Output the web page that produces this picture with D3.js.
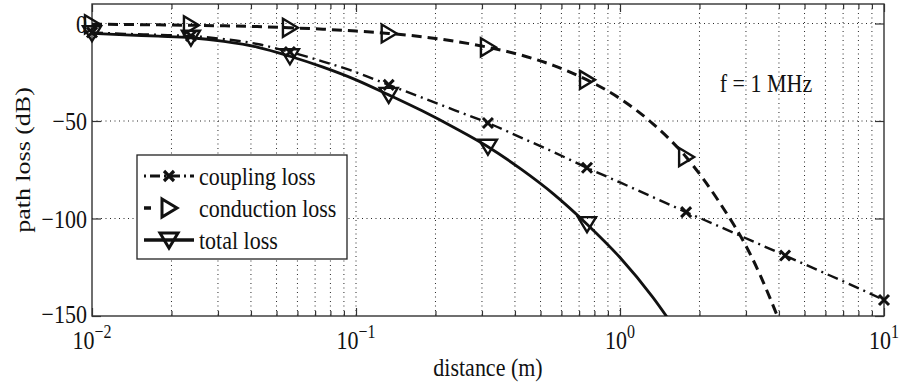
<!DOCTYPE html>
<html>
<head>
<meta charset="utf-8">
<script src="https://cdn.jsdelivr.net/npm/d3@7"></script>
<style>
  html, body { margin: 0; padding: 0; background: #fff; }
  svg { display: block; }
  text { font-family: "Liberation Serif", "Times New Roman", serif; fill: #111; }
</style>
</head>
<body>
<svg id="chart" width="901" height="385"></svg>
<script>
// ---- data ----
const distance = [0.01, 0.0133, 0.0178, 0.0237, 0.0316, 0.0422, 0.0562, 0.075, 0.1,
  0.133, 0.178, 0.237, 0.316, 0.422, 0.562, 0.75, 1.0, 1.33, 1.78, 2.37, 3.16, 4.22,
  5.62, 7.5, 10];
const couplingLoss = [-4.6, -5.3, -5.8, -6.4, -8, -10.5, -14.6, -19.5, -25,
  -31.5, -38, -44.5, -51, -58.5, -66, -74, -81.5, -89, -96.7, -104, -111.5, -119,
  -126.5, -134, -141.8];
const conductionLoss = [-0.4, -0.5, -0.7, -0.9, -1.2, -1.6, -2.2, -2.9, -3.9,
  -5.1, -6.8, -9.1, -12.2, -16.2, -21.6, -28.9, -38.5, -51.3, -68.5, -91.3, -120, -160];
const totalLoss = [-5.0, -5.8, -6.5, -7.3, -9.2, -12.1, -16.8, -22.4, -28.9,
  -36.6, -44.8, -53.6, -63.2, -74.7, -87.6, -102.9, -120, -140.3, -165];
const yTicks = [0, -50, -100, -150];
const xMajorTicks = [0.01, 0.1, 1, 10];
const xTickExponents = ["\u22122", "\u22121", "0", "1"];
const seriesNames = ["coupling loss", "conduction loss", "total loss"];
const annotation = "f = 1 MHz";
const xLabel = "distance (m)";
const yLabel = "path loss (dB)";

// ---- layout ----
const svg = d3.select("#chart");
const L = 92, R = 884, T = 4, B = 316;
const SY = 1.18; // vertical stretch of glyphs seen in the reference
const x = d3.scaleLog().domain([0.01, 10]).range([L, R]);
const y = d3.scaleLinear().domain([-150, 10]).range([B, T]);
const ink = "#111";

svg.append("defs").append("clipPath").attr("id", "plotclip")
  .append("rect").attr("x", L).attr("y", T).attr("width", R - L).attr("height", B - T);

// minor tick values
const xMinor = [];
[0.01, 0.1, 1].forEach(dec => { for (let k = 2; k <= 9; k++) xMinor.push(dec * k); });

// grid
const grid = svg.append("g").attr("stroke", ink).attr("stroke-width", 1)
  .attr("stroke-dasharray", "1,3.5").attr("opacity", 0.9);
xMinor.concat([0.1, 1]).forEach(v => {
  grid.append("line").attr("x1", x(v)).attr("x2", x(v)).attr("y1", T).attr("y2", B);
});
yTicks.filter(v => v > -150).forEach(v => {
  grid.append("line").attr("x1", L).attr("x2", R).attr("y1", y(v)).attr("y2", y(v));
});

// axes box and ticks (inward, MATLAB style)
const axesG = svg.append("g");
const mk = (axis, vals, size) => axis.tickValues(vals).tickSizeInner(-size).tickSizeOuter(0).tickFormat("");
axesG.append("g").attr("transform", `translate(0,${B})`).call(mk(d3.axisBottom(x), xMajorTicks, 8));
axesG.append("g").attr("transform", `translate(0,${B})`).call(mk(d3.axisBottom(x), xMinor, 5));
axesG.append("g").attr("transform", `translate(0,${T})`).call(mk(d3.axisTop(x), xMajorTicks, 8));
axesG.append("g").attr("transform", `translate(0,${T})`).call(mk(d3.axisTop(x), xMinor, 5));
axesG.append("g").attr("transform", `translate(${L},0)`).call(mk(d3.axisLeft(y), yTicks, 9));
axesG.append("g").attr("transform", `translate(${R},0)`).call(mk(d3.axisRight(y), yTicks, 9));
axesG.selectAll("path.domain").remove();
axesG.selectAll(".tick line").attr("stroke", "#333").attr("stroke-width", 1.2);
svg.append("rect").attr("x", L).attr("y", T).attr("width", R - L).attr("height", B - T)
  .attr("fill", "none").attr("stroke", "#333").attr("stroke-width", 1.4);

// tick labels
svg.append("g").selectAll("text").data(yTicks).join("text")
  .attr("transform", d => `translate(${L - 5},${y(d) - (d === -150 ? 2 : 0)}) scale(1,${SY})`).attr("dy", "0.35em")
  .attr("text-anchor", "end").style("font-size", "22px")
  .text(d => d < 0 ? "\u2212" + Math.abs(d) : String(d));
const xl = svg.append("g").selectAll("text").data(xMajorTicks).join("text")
  .attr("transform", d => `translate(${x(d)},${B + 33}) scale(1,${SY})`)
  .attr("text-anchor", "middle").style("font-size", "22px");
xl.append("tspan").text("10");
xl.append("tspan").attr("dy", -9).style("font-size", "16px").text((d, i) => xTickExponents[i]);

// axis labels
svg.append("text").attr("transform", `translate(${(L + R) / 2},376) scale(1,${SY})`)
  .attr("text-anchor", "middle").style("font-size", "22px").text(xLabel);
svg.append("text").attr("transform", `translate(30,${(T + B) / 2}) rotate(-90) scale(${SY},1)`)
  .attr("text-anchor", "middle").style("font-size", "22px").text(yLabel);

// annotation
svg.append("text").attr("transform", `translate(766,92) scale(1,${SY})`).attr("text-anchor", "middle")
  .style("font-size", "22px").text(annotation);

// series definitions
const series = [
  { name: seriesNames[0], values: couplingLoss, dash: "11,5,2,5", width: 2.4, marker: "x" },
  { name: seriesNames[1], values: conductionLoss, dash: "10,6", width: 3, marker: "right" },
  { name: seriesNames[2], values: totalLoss, dash: null, width: 2.8, marker: "down" }
];

function markerPath(type) {
  if (type === "x") return "M-5,-5L5,5M-5,5L5,-5";
  if (type === "right") return "M-7,-9L8,0L-7,9Z";
  return "M-9,-7L9,-7L0,8Z";
}

const lineGen = d3.line().x(d => x(d[0])).y(d => y(d[1])).curve(d3.curveMonotoneX);
const plotG = svg.append("g");
series.forEach(s => {
  const pts = s.values.map((v, i) => [distance[i], v]);
  plotG.append("path").attr("clip-path", "url(#plotclip)")
    .attr("d", lineGen(pts)).attr("fill", "none").attr("stroke", ink)
    .attr("stroke-width", s.width).attr("stroke-dasharray", s.dash)
    .attr("stroke-linejoin", "round");
  plotG.selectAll(null).data(pts.filter((p, i) => i % 3 === 0 && p[1] >= -150)).join("path")
    .attr("transform", p => `translate(${x(p[0])},${y(p[1])})`)
    .attr("d", markerPath(s.marker)).attr("fill", "none").attr("stroke", ink)
    .attr("stroke-width", s.marker === "x" ? 3 : 2.4).attr("stroke-linejoin", "miter");
});

// legend
const lg = svg.append("g");
const lgX = 137, lgY = 155, lgW = 210, lgH = 104;
lg.append("rect").attr("x", lgX).attr("y", lgY).attr("width", lgW).attr("height", lgH)
  .attr("fill", "#fff").attr("stroke", "#222").attr("stroke-width", 1.3);
series.forEach((s, i) => {
  const cy = lgY + 21 + i * 32;
  lg.append("line").attr("x1", lgX + 7).attr("x2", lgX + 57).attr("y1", cy).attr("y2", cy)
    .attr("stroke", ink).attr("stroke-width", s.width + 0.6)
    .attr("stroke-dasharray", s.marker === "x" ? "2,4,10,4" : s.dash ? "7,5,0,38,10,6" : null);
  lg.append("path").attr("transform", `translate(${lgX + 32},${cy})`)
    .attr("d", markerPath(s.marker)).attr("fill", "none").attr("stroke", ink)
    .attr("stroke-width", s.marker === "x" ? 3.2 : 3);
  lg.append("text").attr("transform", `translate(${lgX + 62},${cy}) scale(1,${SY})`).attr("dy", "0.33em")
    .style("font-size", "22px").text(s.name);
});
</script>
</body>
</html>
